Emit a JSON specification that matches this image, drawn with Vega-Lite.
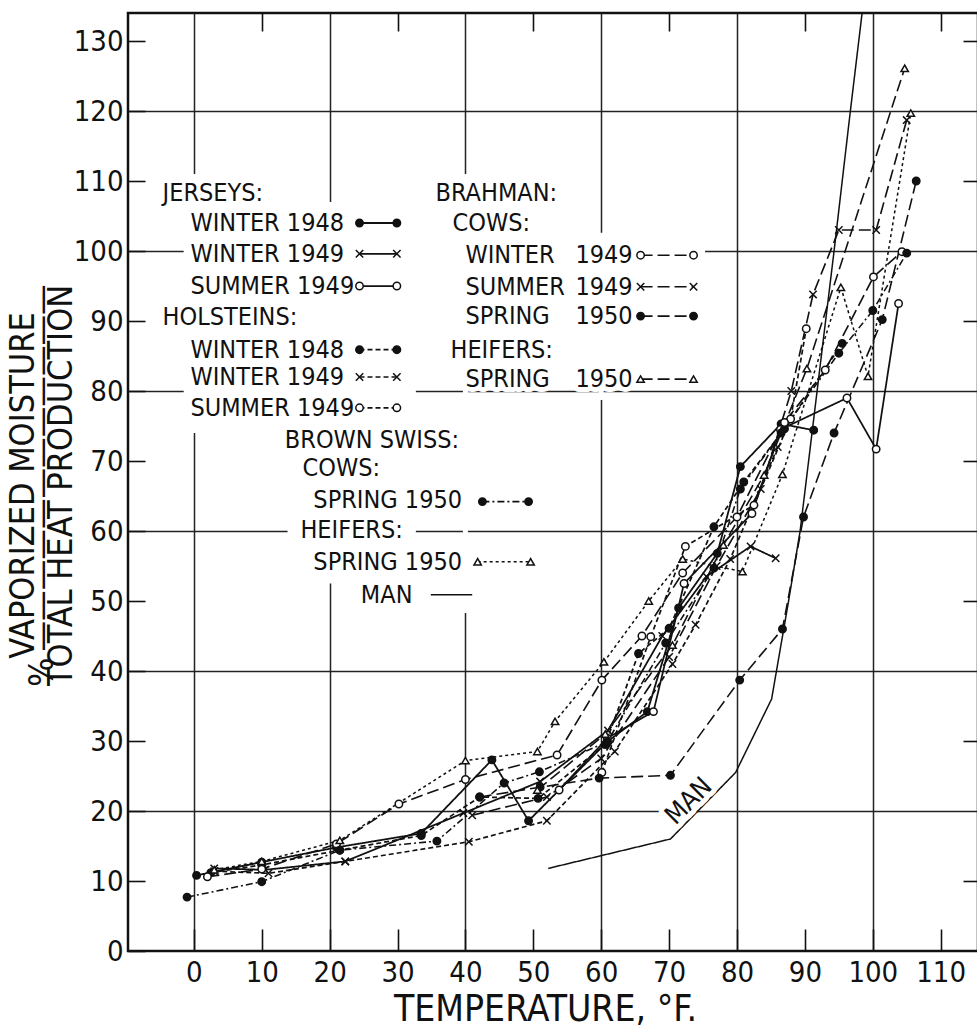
{
  "$schema": "https://vega.github.io/schema/vega-lite/v6.json",
  "width": 850,
  "height": 938,
  "autosize": "none",
  "padding": {"left": 128, "top": 13, "right": 0, "bottom": 78},
  "background": "white",
  "config": {
    "view": {"stroke": "#111", "strokeWidth": 2.5},
    "axis": {
      "tickColor": "#111", "tickWidth": 1.6, "gridColor": "#222", "gridWidth": 1.5,
      "labelColor": "#111", "titleColor": "#111",
      "labelFont": "Liberation Sans Narrow, DejaVu Sans Condensed, Liberation Sans, sans-serif",
      "titleFont": "Liberation Sans Narrow, DejaVu Sans Condensed, Liberation Sans, sans-serif",
      "labelFontSize": 29, "titleFontWeight": "normal", "labelFlush": false, "labelOverlap": false
    },
    "text": {"font": "Liberation Sans Narrow, DejaVu Sans Condensed, Liberation Sans, sans-serif"}
  },
  "datasets": {
    "obs": [
      {"series": "J-W48", "temp": 0.4, "pct": 10.8}, {"series": "J-W48", "temp": 10, "pct": 12.7}, {"series": "J-W48", "temp": 21, "pct": 14.8}, {"series": "J-W48", "temp": 33.5, "pct": 16.8}, {"series": "J-W48", "temp": 43.9, "pct": 27.3}, {"series": "J-W48", "temp": 49.3, "pct": 18.6}, {"series": "J-W48", "temp": 60.9, "pct": 29.9}, {"series": "J-W48", "temp": 66.8, "pct": 34.2}, {"series": "J-W48", "temp": 71.4, "pct": 49}, {"series": "J-W48", "temp": 77.1, "pct": 56.8}, {"series": "J-W48", "temp": 80.5, "pct": 69.2}, {"series": "J-W48", "temp": 86.5, "pct": 75.3}, {"series": "J-W48", "temp": 91.3, "pct": 74.4},
      {"series": "J-W49", "temp": 3, "pct": 11.8}, {"series": "J-W49", "temp": 10.5, "pct": 11.6}, {"series": "J-W49", "temp": 22.3, "pct": 12.8}, {"series": "J-W49", "temp": 39.7, "pct": 19.7}, {"series": "J-W49", "temp": 51, "pct": 24.2}, {"series": "J-W49", "temp": 61, "pct": 31.5}, {"series": "J-W49", "temp": 69, "pct": 45}, {"series": "J-W49", "temp": 75.5, "pct": 53.5}, {"series": "J-W49", "temp": 82, "pct": 57.8}, {"series": "J-W49", "temp": 85.7, "pct": 56.1},
      {"series": "J-S49", "temp": 53.8, "pct": 23}, {"series": "J-S49", "temp": 60.9, "pct": 30.4}, {"series": "J-S49", "temp": 67.7, "pct": 34.2}, {"series": "J-S49", "temp": 72.2, "pct": 52.5}, {"series": "J-S49", "temp": 82.2, "pct": 62.5}, {"series": "J-S49", "temp": 86.4, "pct": 74.5}, {"series": "J-S49", "temp": 96.2, "pct": 79}, {"series": "J-S49", "temp": 100.5, "pct": 71.7}, {"series": "J-S49", "temp": 103.8, "pct": 92.5},
      {"series": "H-W48", "temp": 2.5, "pct": 11.2}, {"series": "H-W48", "temp": 10, "pct": 12.3}, {"series": "H-W48", "temp": 21.5, "pct": 14.4}, {"series": "H-W48", "temp": 33.5, "pct": 16.5}, {"series": "H-W48", "temp": 42.1, "pct": 22}, {"series": "H-W48", "temp": 50.7, "pct": 21.8}, {"series": "H-W48", "temp": 60.6, "pct": 29.5}, {"series": "H-W48", "temp": 65.5, "pct": 42.5}, {"series": "H-W48", "temp": 70, "pct": 46.1}, {"series": "H-W48", "temp": 76.6, "pct": 60.6}, {"series": "H-W48", "temp": 81, "pct": 67}, {"series": "H-W48", "temp": 87, "pct": 74.6}, {"series": "H-W48", "temp": 95.5, "pct": 86.8},
      {"series": "H-W49", "temp": 3, "pct": 11.4}, {"series": "H-W49", "temp": 11, "pct": 11.1}, {"series": "H-W49", "temp": 22.3, "pct": 12.8}, {"series": "H-W49", "temp": 40.5, "pct": 15.6}, {"series": "H-W49", "temp": 52, "pct": 18.6}, {"series": "H-W49", "temp": 62, "pct": 28.5}, {"series": "H-W49", "temp": 70.5, "pct": 41}, {"series": "H-W49", "temp": 73.9, "pct": 46.6}, {"series": "H-W49", "temp": 79, "pct": 56}, {"series": "H-W49", "temp": 86, "pct": 72},
      {"series": "H-S49", "temp": 60.1, "pct": 25.5}, {"series": "H-S49", "temp": 67.3, "pct": 44.9}, {"series": "H-S49", "temp": 72.4, "pct": 57.8}, {"series": "H-S49", "temp": 82.5, "pct": 63.7}, {"series": "H-S49", "temp": 87.9, "pct": 76}, {"series": "H-S49", "temp": 90.2, "pct": 88.9},
      {"series": "B-CW49", "temp": 2, "pct": 10.6}, {"series": "B-CW49", "temp": 10, "pct": 11.7}, {"series": "B-CW49", "temp": 21, "pct": 15.3}, {"series": "B-CW49", "temp": 30.2, "pct": 21}, {"series": "B-CW49", "temp": 40, "pct": 24.5}, {"series": "B-CW49", "temp": 53.5, "pct": 28}, {"series": "B-CW49", "temp": 60.1, "pct": 38.7}, {"series": "B-CW49", "temp": 66, "pct": 45}, {"series": "B-CW49", "temp": 72, "pct": 54}, {"series": "B-CW49", "temp": 80, "pct": 62}, {"series": "B-CW49", "temp": 87, "pct": 75.5}, {"series": "B-CW49", "temp": 93, "pct": 83}, {"series": "B-CW49", "temp": 100.1, "pct": 96.3}, {"series": "B-CW49", "temp": 104.3, "pct": 99.9},
      {"series": "B-CS49", "temp": 41, "pct": 19.4}, {"series": "B-CS49", "temp": 52, "pct": 22}, {"series": "B-CS49", "temp": 60, "pct": 27.5}, {"series": "B-CS49", "temp": 70, "pct": 42}, {"series": "B-CS49", "temp": 77, "pct": 55}, {"series": "B-CS49", "temp": 83.5, "pct": 66}, {"series": "B-CS49", "temp": 88, "pct": 80}, {"series": "B-CS49", "temp": 91.2, "pct": 93.8}, {"series": "B-CS49", "temp": 95, "pct": 103}, {"series": "B-CS49", "temp": 100.5, "pct": 103}, {"series": "B-CS49", "temp": 105, "pct": 118.7},
      {"series": "B-CSp50", "temp": 42.1, "pct": 22}, {"series": "B-CSp50", "temp": 51, "pct": 23.4}, {"series": "B-CSp50", "temp": 59.7, "pct": 24.7}, {"series": "B-CSp50", "temp": 70.2, "pct": 25.1}, {"series": "B-CSp50", "temp": 80.4, "pct": 38.7}, {"series": "B-CSp50", "temp": 86.7, "pct": 46}, {"series": "B-CSp50", "temp": 89.8, "pct": 62}, {"series": "B-CSp50", "temp": 94.3, "pct": 74}, {"series": "B-CSp50", "temp": 101.4, "pct": 90.2}, {"series": "B-CSp50", "temp": 106.4, "pct": 110},
      {"series": "B-HSp50", "temp": 50.6, "pct": 23}, {"series": "B-HSp50", "temp": 60.6, "pct": 31}, {"series": "B-HSp50", "temp": 70.5, "pct": 43.7}, {"series": "B-HSp50", "temp": 78, "pct": 58}, {"series": "B-HSp50", "temp": 84, "pct": 68}, {"series": "B-HSp50", "temp": 90.3, "pct": 83.2}, {"series": "B-HSp50", "temp": 104.7, "pct": 126.1},
      {"series": "S-CSp50", "temp": -1, "pct": 7.7}, {"series": "S-CSp50", "temp": 10, "pct": 9.9}, {"series": "S-CSp50", "temp": 21.5, "pct": 14.4}, {"series": "S-CSp50", "temp": 35.8, "pct": 15.7}, {"series": "S-CSp50", "temp": 45.7, "pct": 24}, {"series": "S-CSp50", "temp": 50.9, "pct": 25.6}, {"series": "S-CSp50", "temp": 60.9, "pct": 29.9}, {"series": "S-CSp50", "temp": 69.5, "pct": 44}, {"series": "S-CSp50", "temp": 76.6, "pct": 54.7}, {"series": "S-CSp50", "temp": 80.5, "pct": 66}, {"series": "S-CSp50", "temp": 86.5, "pct": 74}, {"series": "S-CSp50", "temp": 95, "pct": 85.4}, {"series": "S-CSp50", "temp": 100, "pct": 91.5}, {"series": "S-CSp50", "temp": 105, "pct": 99.7},
      {"series": "S-HSp50", "temp": 3, "pct": 11.6}, {"series": "S-HSp50", "temp": 10, "pct": 12.8}, {"series": "S-HSp50", "temp": 21.5, "pct": 15.8}, {"series": "S-HSp50", "temp": 40, "pct": 27.2}, {"series": "S-HSp50", "temp": 50.6, "pct": 28.5}, {"series": "S-HSp50", "temp": 53.2, "pct": 32.8}, {"series": "S-HSp50", "temp": 60.4, "pct": 41.3}, {"series": "S-HSp50", "temp": 67, "pct": 50}, {"series": "S-HSp50", "temp": 72, "pct": 56}, {"series": "S-HSp50", "temp": 80.8, "pct": 54.2}, {"series": "S-HSp50", "temp": 86.7, "pct": 68.1}, {"series": "S-HSp50", "temp": 95.3, "pct": 94.8}, {"series": "S-HSp50", "temp": 99.3, "pct": 82.1}, {"series": "S-HSp50", "temp": 105.6, "pct": 119.7},
      {"series": "MAN", "temp": 52.2, "pct": 11.8}, {"series": "MAN", "temp": 70.2, "pct": 16}, {"series": "MAN", "temp": 79.8, "pct": 25.5}, {"series": "MAN", "temp": 85.1, "pct": 36}, {"series": "MAN", "temp": 87.6, "pct": 50}, {"series": "MAN", "temp": 89.3, "pct": 60}, {"series": "MAN", "temp": 91.8, "pct": 80}, {"series": "MAN", "temp": 94.3, "pct": 100}, {"series": "MAN", "temp": 96.7, "pct": 120}, {"series": "MAN", "temp": 98.8, "pct": 137}
    ],
    "legendText": [
      {"label": "JERSEYS:", "temp": -4.6, "pct": 108.3},
      {"label": "WINTER 1948", "temp": -0.5, "pct": 104},
      {"label": "WINTER 1949", "temp": -0.5, "pct": 99.6},
      {"label": "SUMMER 1949", "temp": -0.5, "pct": 95},
      {"label": "HOLSTEINS:", "temp": -4.6, "pct": 90.6},
      {"label": "WINTER 1948", "temp": -0.5, "pct": 85.9},
      {"label": "WINTER 1949", "temp": -0.5, "pct": 82},
      {"label": "SUMMER 1949", "temp": -0.5, "pct": 77.6},
      {"label": "BROWN SWISS:", "temp": 13.4, "pct": 73},
      {"label": "COWS:", "temp": 16, "pct": 69},
      {"label": "SPRING 1950", "temp": 17.6, "pct": 64.4},
      {"label": "HEIFERS:", "temp": 15.7, "pct": 60.1},
      {"label": "SPRING 1950", "temp": 17.6, "pct": 55.6},
      {"label": "MAN", "temp": 24.6, "pct": 50.9},
      {"label": "BRAHMAN:", "temp": 35.6, "pct": 108.3},
      {"label": "COWS:", "temp": 38.1, "pct": 104},
      {"label": "WINTER", "temp": 40, "pct": 99.4},
      {"label": "1949", "temp": 56.2, "pct": 99.4},
      {"label": "SUMMER", "temp": 40, "pct": 94.9},
      {"label": "1949", "temp": 56.2, "pct": 94.9},
      {"label": "SPRING", "temp": 40, "pct": 90.7},
      {"label": "1950", "temp": 56.2, "pct": 90.7},
      {"label": "HEIFERS:", "temp": 37.8, "pct": 85.9},
      {"label": "SPRING", "temp": 40, "pct": 81.7},
      {"label": "1950", "temp": 56.2, "pct": 81.7}
    ],
    "legendSample": [
      {"series": "J-W48", "temp": 24.4, "pct": 104}, {"series": "J-W48", "temp": 29.9, "pct": 104},
      {"series": "J-W49", "temp": 24.4, "pct": 99.6}, {"series": "J-W49", "temp": 29.9, "pct": 99.6},
      {"series": "J-S49", "temp": 24.4, "pct": 95}, {"series": "J-S49", "temp": 29.9, "pct": 95},
      {"series": "H-W48", "temp": 24.4, "pct": 85.9}, {"series": "H-W48", "temp": 29.9, "pct": 85.9},
      {"series": "H-W49", "temp": 24.4, "pct": 82}, {"series": "H-W49", "temp": 29.9, "pct": 82},
      {"series": "H-S49", "temp": 24.4, "pct": 77.6}, {"series": "H-S49", "temp": 29.9, "pct": 77.6},
      {"series": "B-CW49", "temp": 65.8, "pct": 99.4}, {"series": "B-CW49", "temp": 73.6, "pct": 99.4},
      {"series": "B-CS49", "temp": 65.8, "pct": 94.9}, {"series": "B-CS49", "temp": 73.6, "pct": 94.9},
      {"series": "B-CSp50", "temp": 65.8, "pct": 90.7}, {"series": "B-CSp50", "temp": 73.6, "pct": 90.7},
      {"series": "B-HSp50", "temp": 65.8, "pct": 81.7}, {"series": "B-HSp50", "temp": 73.6, "pct": 81.7},
      {"series": "S-CSp50", "temp": 42.5, "pct": 64.2}, {"series": "S-CSp50", "temp": 49.3, "pct": 64.2},
      {"series": "S-HSp50", "temp": 41.8, "pct": 55.6}, {"series": "S-HSp50", "temp": 49.6, "pct": 55.6},
      {"series": "MAN", "temp": 34.9, "pct": 50.9}, {"series": "MAN", "temp": 41, "pct": 50.9}
    ],
    "gridGaps": [
      {"temp": 0, "temp2": 0, "pct": 74, "pct2": 111},
      {"temp": 20, "temp2": 20, "pct": 52.5, "pct2": 107},
      {"temp": 40, "temp2": 40, "pct": 48.3, "pct2": 111},
      {"temp": 60, "temp2": 60, "pct": 78.7, "pct2": 102.6},
      {"temp": -1.5, "temp2": 75.3, "pct": 100, "pct2": 100},
      {"temp": -1.5, "temp2": 32.7, "pct": 80, "pct2": 80},
      {"temp": 13.8, "temp2": 32.7, "pct": 60, "pct2": 60}
    ],
    "manLabel": [
      {"label": "MAN", "temp": 72.9, "pct": 21.4}
    ]
  },
  "resolve": {"axis": {"x": "independent", "y": "independent"}},
  "layer": [
    {
      "data": {"name": "obs"},
      "mark": {"type": "line", "clip": true, "color": "#111"},
      "encoding": {
        "x": {"field": "temp", "type": "quantitative", "scale": {"domain": [-9.7, 115.5], "nice": false, "zero": false},
          "axis": {"orient": "bottom", "values": [0, 10, 20, 30, 40, 50, 60, 70, 80, 90, 100, 110], "domain": false,
            "grid": true, "gridOpacity": {"condition": {"test": "datum.value % 20 === 0", "value": 1}, "value": 0},
            "tickSize": -22, "labelPadding": 29, "labelBaseline": "top",
            "title": "TEMPERATURE, °F.", "titleFontSize": 37, "titleX": 417, "titleY": 69, "titleBaseline": "alphabetic", "titleAlign": "center", "titleAngle": 0}},
        "y": {"field": "pct", "type": "quantitative", "scale": {"domain": [0, 134], "nice": false, "zero": false},
          "axis": {"orient": "left", "values": [0, 10, 20, 30, 40, 50, 60, 70, 80, 90, 100, 110, 120, 130], "domain": false,
            "grid": true, "gridOpacity": {"condition": {"test": "datum.value % 20 === 0 && datum.value > 0", "value": 1}, "value": 0},
            "tickSize": -17, "labelPadding": 22,
            "title": ["VAPORIZED MOISTURE", "%\u2009————————————\u2003", "TOTAL HEAT PRODUCTION"],
            "titleFontSize": 34, "titleLineHeight": 19, "titleX": -105, "titleY": 472, "titleAngle": -90, "titleAlign": "center", "titleBaseline": "middle"}},
        "detail": {"field": "series"},
        "order": {"field": "temp"},
        "strokeDash": {"field": "series", "type": "nominal", "legend": null,
          "scale": {"domain": ["J-W48","J-W49","J-S49","H-W48","H-W49","H-S49","B-CW49","B-CS49","B-CSp50","B-HSp50","S-CSp50","S-HSp50","MAN"],
            "range": [[1,0],[1,0],[1,0],[5,3],[5,3],[5,3],[12,5],[12,5],[12,5],[12,5],[7,3,2,3],[3,3],[1,0]]}},
        "strokeWidth": {"field": "series", "type": "nominal", "legend": null,
          "scale": {"domain": ["J-W48","J-W49","J-S49","H-W48","H-W49","H-S49","B-CW49","B-CS49","B-CSp50","B-HSp50","S-CSp50","S-HSp50","MAN"],
            "range": [1.8,1.5,1.8,1.7,1.5,1.7,1.7,1.7,1.8,1.7,1.7,1.6,2.6]}}
      }
    },
    {
      "data": {"name": "obs"},
      "transform": [{"filter": "datum.series !== 'MAN'"}],
      "mark": {"type": "point", "filled": true, "stroke": "#111", "strokeWidth": 1.5, "opacity": 1, "size": 55},
      "encoding": {
        "x": {"field": "temp", "type": "quantitative", "axis": {"orient": "top", "values": [10, 30, 50, 70, 90, 110], "labels": false, "domain": false, "grid": false, "tickSize": -18, "title": null}},
        "y": {"field": "pct", "type": "quantitative", "axis": {"orient": "right", "values": [10, 30, 50, 70, 90, 110, 130], "labels": false, "domain": false, "grid": false, "tickSize": -15, "title": null}},
        "shape": {"field": "series", "type": "nominal", "legend": null,
          "scale": {"domain": ["J-W48","J-W49","J-S49","H-W48","H-W49","H-S49","B-CW49","B-CS49","B-CSp50","B-HSp50","S-CSp50","S-HSp50","MAN"],
            "range": ["circle","M-1,-1L1,1M-1,1L1,-1","circle","circle","M-1,-1L1,1M-1,1L1,-1","circle","circle","M-1,-1L1,1M-1,1L1,-1","circle","triangle-up","circle","triangle-up","circle"]}},
        "fill": {"field": "series", "type": "nominal", "legend": null,
          "scale": {"domain": ["J-W48","J-W49","J-S49","H-W48","H-W49","H-S49","B-CW49","B-CS49","B-CSp50","B-HSp50","S-CSp50","S-HSp50","MAN"],
            "range": ["#111","white","white","#111","white","white","white","white","#111","white","#111","white","white"]}}
      }
    },
    {
      "data": {"name": "gridGaps"},
      "mark": {"type": "rule", "color": "white", "strokeWidth": 5},
      "encoding": {
        "x": {"field": "temp", "type": "quantitative", "axis": null},
        "x2": {"field": "temp2"},
        "y": {"field": "pct", "type": "quantitative", "axis": null},
        "y2": {"field": "pct2"}
      }
    },
    {
      "data": {"name": "legendText"},
      "mark": {"type": "text", "align": "left", "baseline": "middle", "fontSize": 25, "fill": "white", "stroke": "white", "strokeWidth": 10, "strokeJoin": "round"},
      "encoding": {
        "x": {"field": "temp", "type": "quantitative", "axis": null},
        "y": {"field": "pct", "type": "quantitative", "axis": null},
        "text": {"field": "label"}
      }
    },
    {
      "data": {"name": "legendSample"},
      "mark": {"type": "line", "color": "white", "strokeWidth": 14, "strokeCap": "round"},
      "encoding": {
        "x": {"field": "temp", "type": "quantitative", "axis": null},
        "y": {"field": "pct", "type": "quantitative", "axis": null},
        "detail": {"field": "series"}
      }
    },
    {
      "data": {"name": "manLabel"},
      "mark": {"type": "text", "angle": -45, "fontSize": 26, "fill": "white", "stroke": "white", "strokeWidth": 10, "strokeJoin": "round", "align": "center", "baseline": "middle"},
      "encoding": {
        "x": {"field": "temp", "type": "quantitative", "axis": null},
        "y": {"field": "pct", "type": "quantitative", "axis": null},
        "text": {"field": "label"}
      }
    },
    {
      "data": {"name": "legendText"},
      "mark": {"type": "text", "align": "left", "baseline": "middle", "fontSize": 25, "fill": "#111"},
      "encoding": {
        "x": {"field": "temp", "type": "quantitative", "axis": null},
        "y": {"field": "pct", "type": "quantitative", "axis": null},
        "text": {"field": "label"}
      }
    },
    {
      "data": {"name": "legendSample"},
      "mark": {"type": "line", "color": "#111"},
      "encoding": {
        "x": {"field": "temp", "type": "quantitative", "axis": null},
        "y": {"field": "pct", "type": "quantitative", "axis": null},
        "detail": {"field": "series"},
        "strokeDash": {"field": "series", "type": "nominal", "legend": null},
        "strokeWidth": {"field": "series", "type": "nominal", "legend": null}
      }
    },
    {
      "data": {"name": "legendSample"},
      "transform": [{"filter": "datum.series !== 'MAN'"}],
      "mark": {"type": "point", "filled": true, "stroke": "#111", "strokeWidth": 1.5, "opacity": 1, "size": 55},
      "encoding": {
        "x": {"field": "temp", "type": "quantitative", "axis": null},
        "y": {"field": "pct", "type": "quantitative", "axis": null},
        "shape": {"field": "series", "type": "nominal", "legend": null},
        "fill": {"field": "series", "type": "nominal", "legend": null}
      }
    },
    {
      "data": {"name": "manLabel"},
      "mark": {"type": "text", "angle": -45, "fontSize": 26, "fill": "#111", "align": "center", "baseline": "middle"},
      "encoding": {
        "x": {"field": "temp", "type": "quantitative", "axis": null},
        "y": {"field": "pct", "type": "quantitative", "axis": null},
        "text": {"field": "label"}
      }
    }
  ]
}
